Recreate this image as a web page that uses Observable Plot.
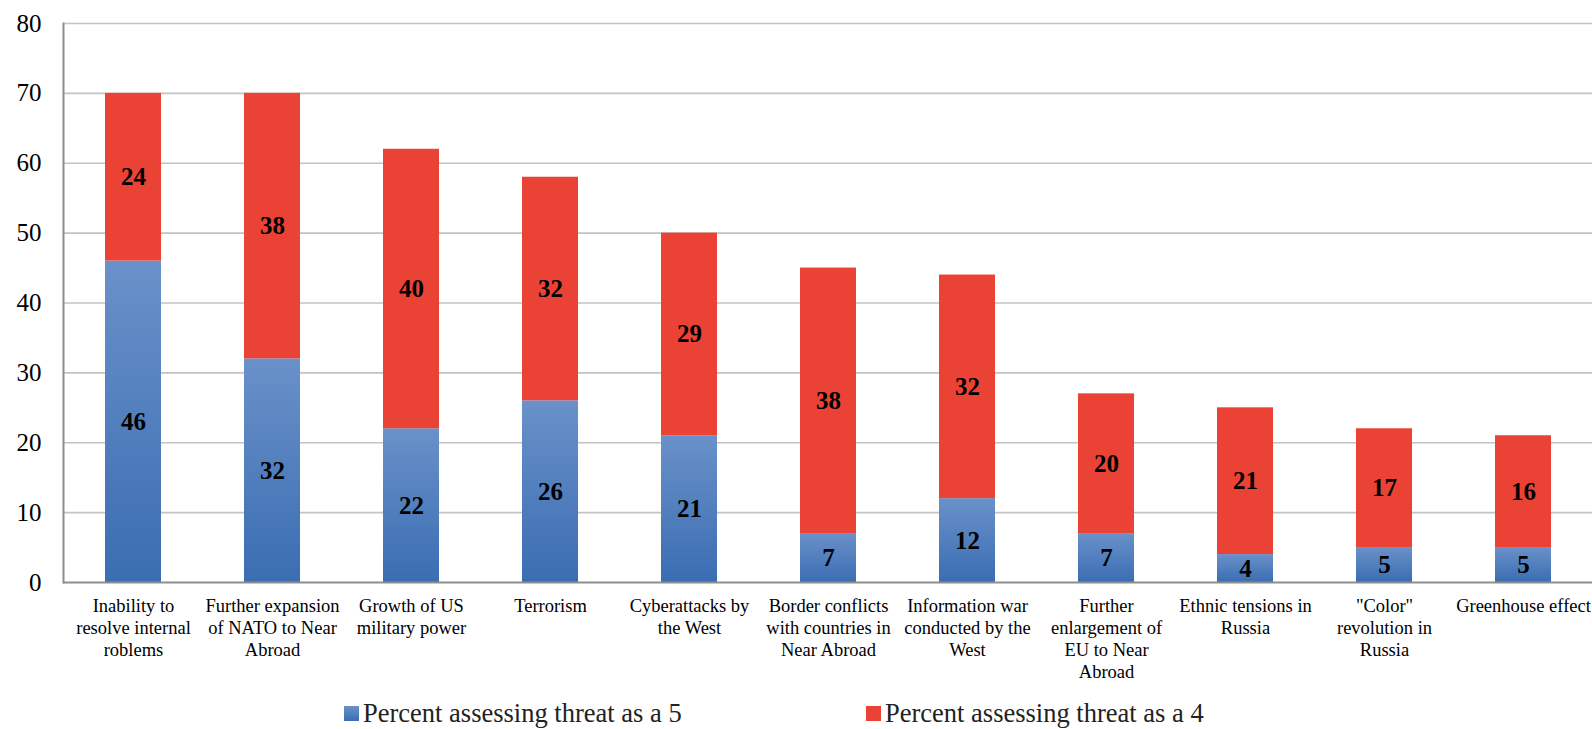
<!DOCTYPE html>
<html>
<head>
<meta charset="utf-8">
<script src="https://cdn.jsdelivr.net/npm/d3@7"></script>
<script src="https://cdn.jsdelivr.net/npm/@observablehq/plot@0.6"></script>
<style>
  html, body { margin: 0; padding: 0; background: #fff; overflow: hidden; }
  #chart { width: 1592px; }
  #legend { position: relative; height: 39px; font-family: "Liberation Serif", "Times New Roman", serif; font-size: 26.5px; color: #222; }
  .item { position: absolute; top: 7px; display: flex; align-items: center; height: 32px; white-space: nowrap; }
  .sw { width: 15px; height: 15px; margin-right: 4px; }
</style>
</head>
<body>
<div id="chart"></div>
<div id="legend"></div>
<script>
const categories = [
  "Inability to\nresolve internal\nroblems",
  "Further expansion\nof NATO to Near\nAbroad",
  "Growth of US\nmilitary power",
  "Terrorism",
  "Cyberattacks by\nthe West",
  "Border conflicts\nwith countries in\nNear Abroad",
  "Information war\nconducted by the\nWest",
  "Further\nenlargement of\nEU to Near\nAbroad",
  "Ethnic tensions in\nRussia",
  "\"Color\"\nrevolution in\nRussia",
  "Greenhouse effect"
];
const threat5 = [46, 32, 22, 26, 21, 7, 12, 7, 4, 5, 5];
const threat4 = [24, 38, 40, 32, 29, 38, 32, 20, 21, 17, 16];
const seriesNames = ["Percent assessing threat as a 5", "Percent assessing threat as a 4"];
const yTicks = [0, 10, 20, 30, 40, 50, 60, 70, 80];

const RED = "#EA4335";
const BLUE_TOP = "#6A91C9";
const BLUE_BOTTOM = "#3A6DB2";
const FONT = "Liberation Serif, serif";

const rows = [];
categories.forEach((c, i) => {
  rows.push({category: c, series: seriesNames[0], value: threat5[i]});
  rows.push({category: c, series: seriesNames[1], value: threat4[i]});
});

const fillFor = d => d.series === seriesNames[0] ? "url(#blueGrad)" : RED;

const plot = Plot.plot({
  width: 1592,
  height: 690,
  marginLeft: 63,
  marginRight: 0,
  marginTop: 23,
  marginBottom: 108,
  style: "font-family: Liberation Serif, serif; color: #000; background: #fff;",
  x: {domain: categories, paddingInner: 0.6, paddingOuter: 0.3, label: null},
  y: {domain: [0, 80], label: null},
  marks: [
    Plot.ruleY(yTicks.filter(t => t > 0), {stroke: "#C3C3C3", strokeWidth: 1.6}),
    Plot.barY(rows, {x: "category", y: "value", z: "series", fill: fillFor}),
    Plot.text(rows, Plot.stackY({x: "category", y: "value", z: "series", text: "value", fontWeight: "bold", fontSize: 25, fontFamily: FONT, fill: "#000"})),
    Plot.ruleY([0], {stroke: "#8E8E8E", strokeWidth: 2}),
    Plot.frame({anchor: "left", stroke: "#8E8E8E", strokeWidth: 2}),
    Plot.axisY({ticks: yTicks, tickSize: 0, tickPadding: 22, fontSize: 25, fontFamily: FONT, fill: "#000", label: null}),
    Plot.axisX({tickSize: 0, tickPadding: 14, fontSize: 18.5, fontFamily: FONT, fill: "#000", lineHeight: 1.19, label: null})
  ]
});

// gradient definition for the blue (5) segments
const svg = d3.select(plot);
const defs = svg.insert("defs", ":first-child");
const grad = defs.append("linearGradient").attr("id", "blueGrad").attr("x1", 0).attr("y1", 0).attr("x2", 0).attr("y2", 1);
grad.append("stop").attr("offset", "0%").attr("stop-color", BLUE_TOP);
grad.append("stop").attr("offset", "100%").attr("stop-color", BLUE_BOTTOM);
svg.selectAll("text, tspan").attr("font-family", FONT).style("font-family", FONT);

document.getElementById("chart").appendChild(plot);

const legend = document.getElementById("legend");
const legendItems = [
  {name: seriesNames[0], fill: `linear-gradient(${BLUE_TOP}, ${BLUE_BOTTOM})`, left: 344},
  {name: seriesNames[1], fill: RED, left: 866}
];
legendItems.forEach(it => {
  const div = document.createElement("div");
  div.className = "item";
  div.style.left = it.left + "px";
  const sw = document.createElement("span");
  sw.className = "sw";
  sw.style.background = it.fill;
  const t = document.createElement("span");
  t.textContent = it.name;
  div.appendChild(sw);
  div.appendChild(t);
  legend.appendChild(div);
});
</script>
</body>
</html>
